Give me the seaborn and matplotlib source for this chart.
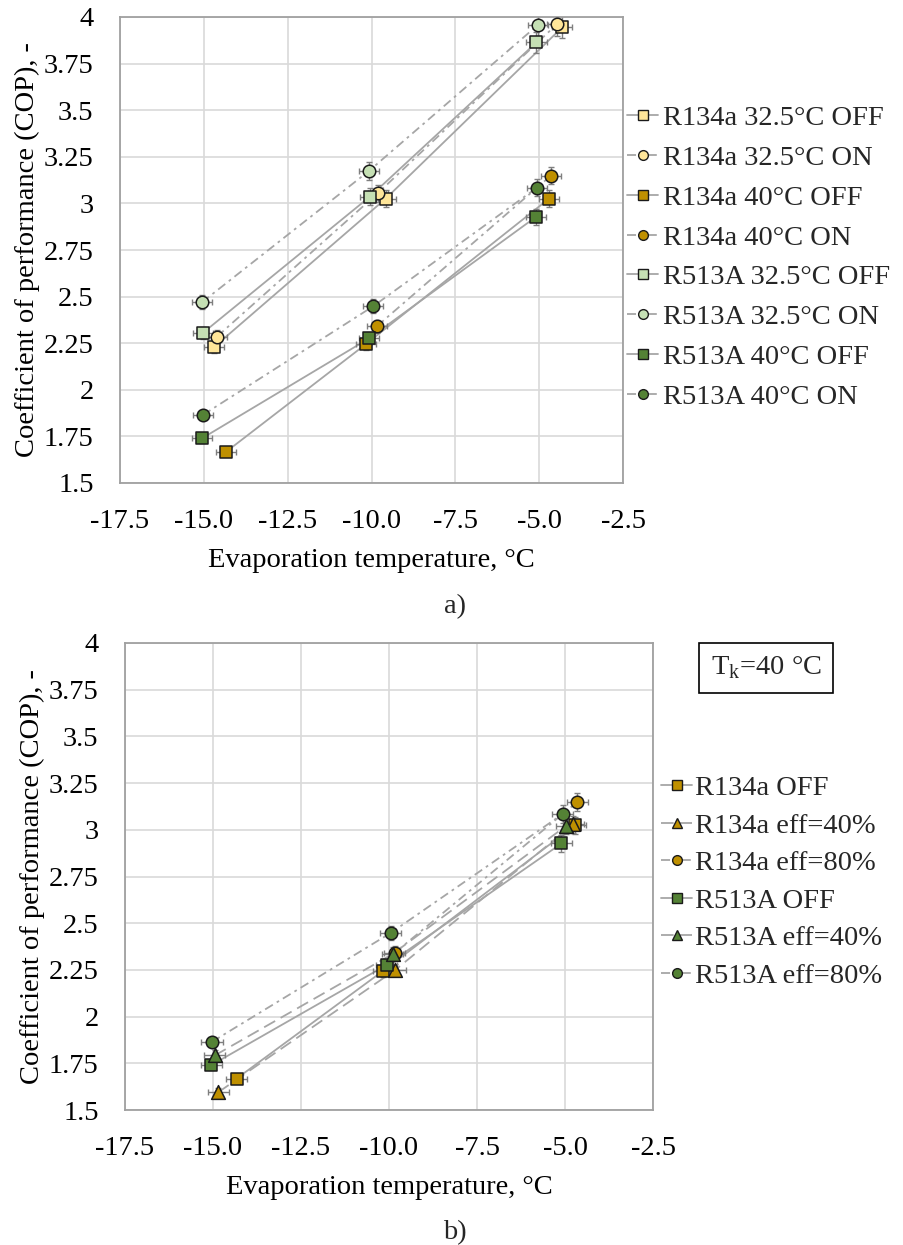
import matplotlib
matplotlib.use("Agg")
import numpy as np
import pandas as pd
import seaborn as sns
import matplotlib.pyplot as plt
from matplotlib.lines import Line2D

# ---------------- data ----------------
# Panel a)
r134a_325_off_x = [-14.69, -9.58, -4.31]
r134a_325_off_y = [2.230, 3.025, 3.945]
r134a_325_on_x = [-14.61, -9.81, -4.48]
r134a_325_on_y = [2.285, 3.055, 3.960]
r134a_40_off_x = [-14.33, -10.16, -4.71]
r134a_40_off_y = [1.668, 2.246, 3.025]
r134a_40_on_x = [-9.84, -4.65]
r134a_40_on_y = [2.341, 3.149]
r513a_325_off_x = [-15.03, -10.05, -5.08]
r513a_325_off_y = [2.305, 3.036, 3.864]
r513a_325_on_x = [-15.06, -10.07, -5.04]
r513a_325_on_y = [2.469, 3.175, 3.957]
r513a_40_off_x = [-15.05, -10.07, -5.10]
r513a_40_off_y = [1.740, 2.276, 2.927]
r513a_40_on_x = [-15.03, -9.95, -5.07]
r513a_40_on_y = [1.865, 2.448, 3.084]

# Panel b) extra series (T_k = 40 °C, IHX efficiency 40 %)
r134a_eff40_x = [-14.85, -9.82, -4.76]
r134a_eff40_y = [1.595, 2.250, 3.030]
r513a_eff40_x = [-14.95, -9.90, -4.96]
r513a_eff40_y = [1.792, 2.335, 3.022]

labels_a = ["R134a 32.5°C OFF", "R134a 32.5°C ON", "R134a 40°C OFF", "R134a 40°C ON",
            "R513A 32.5°C OFF", "R513A 32.5°C ON", "R513A 40°C OFF", "R513A 40°C ON"]
labels_b = ["R134a OFF", "R134a eff=40%", "R134a eff=80%",
            "R513A OFF", "R513A eff=40%", "R513A eff=80%"]

x_ticks = [-17.5, -15.0, -12.5, -10.0, -7.5, -5.0, -2.5]
y_ticks = [1.5, 1.75, 2.0, 2.25, 2.5, 2.75, 3.0, 3.25, 3.5, 3.75, 4.0]

T_ERR = 0.3          # K, temperature uncertainty
COP_REL_ERR = 0.015  # relative COP uncertainty

# ---------------- styles ----------------
C_134_LIGHT = "#FFE699"
C_134_DARK = "#BF9000"
C_513_LIGHT = "#C5E0B4"
C_513_DARK = "#548235"
LINE_C = "#a6a6a6"
SOLID = "-"
DASHDOT = (0, (5, 2.5, 1.5, 2.5))
DASHED = (0, (7, 3.5))

sns.set_theme(style="whitegrid")
plt.rcParams["font.family"] = ["Liberation Serif", "DejaVu Serif"]
plt.rcParams["mathtext.fontset"] = "custom"
plt.rcParams["mathtext.rm"] = "Liberation Serif"
FS = 20.5

W, H = 904, 1245
fig = plt.figure(figsize=(W / 100, H / 100), dpi=100)
fig.patch.set_facecolor("white")


def ax_px(l, t, r, b):
    return fig.add_axes([l / W, 1 - b / H, (r - l) / W, (b - t) / H])


ax1 = ax_px(120, 17, 623, 483)
ax2 = ax_px(125, 643, 653, 1110)

MS = 9.0


def draw_series(ax, xs, ys, color, marker, ls, ms=MS):
    df = pd.DataFrame({"x": xs, "y": ys})
    sns.lineplot(data=df, x="x", y="y", ax=ax, color=LINE_C, lw=1.3,
                 linestyle=ls, sort=False, legend=False, zorder=2)
    yerr = [COP_REL_ERR * v for v in ys]
    ax.errorbar(xs, ys, xerr=T_ERR, yerr=yerr, fmt="none", ecolor="#7f7f7f",
                elinewidth=1.0, capsize=2.5, capthick=1.0, zorder=2.5)
    sns.scatterplot(data=df, x="x", y="y", ax=ax, marker=marker, s=ms ** 2,
                    color=color, edgecolor="#1a1a1a", linewidth=1.1,
                    legend=False, zorder=3)


series_a = [
    (r134a_325_off_x, r134a_325_off_y, C_134_LIGHT, "s", SOLID),
    (r134a_325_on_x, r134a_325_on_y, C_134_LIGHT, "o", DASHDOT),
    (r134a_40_off_x, r134a_40_off_y, C_134_DARK, "s", SOLID),
    (r134a_40_on_x, r134a_40_on_y, C_134_DARK, "o", DASHDOT),
    (r513a_325_off_x, r513a_325_off_y, C_513_LIGHT, "s", SOLID),
    (r513a_325_on_x, r513a_325_on_y, C_513_LIGHT, "o", DASHDOT),
    (r513a_40_off_x, r513a_40_off_y, C_513_DARK, "s", SOLID),
    (r513a_40_on_x, r513a_40_on_y, C_513_DARK, "o", DASHDOT),
]
series_b = [
    (r134a_40_off_x, r134a_40_off_y, C_134_DARK, "s", SOLID),
    (r134a_eff40_x, r134a_eff40_y, C_134_DARK, "^", DASHED),
    (r134a_40_on_x, r134a_40_on_y, C_134_DARK, "o", DASHDOT),
    (r513a_40_off_x, r513a_40_off_y, C_513_DARK, "s", SOLID),
    (r513a_eff40_x, r513a_eff40_y, C_513_DARK, "^", DASHED),
    (r513a_40_on_x, r513a_40_on_y, C_513_DARK, "o", DASHDOT),
]

for s in series_a:
    draw_series(ax1, *s)
for s in series_b:
    draw_series(ax2, *s, ms=MS if s[3] != "^" else MS * 1.1)

for ax in (ax1, ax2):
    ax.set_xlim(-17.5, -2.5)
    ax.set_ylim(1.5, 4.0)
    ax.set_xticks(x_ticks)
    ax.set_xticklabels([f"{v:.1f}" for v in x_ticks])
    ax.set_yticks(y_ticks)
    ax.set_yticklabels([f"{v:g}" for v in y_ticks])
    ax.tick_params(axis="both", length=0, labelsize=FS, pad=19, colors="black")
    ax.grid(True, color="#d9d9d9", lw=1.2)
    ax.set_facecolor("white")
    for sp in ax.spines.values():
        sp.set_color("#a0a0a0")
        sp.set_linewidth(1.3)
    ax.set_xlabel("Evaporation temperature, °C", fontsize=FS, labelpad=10, color="black")
    ax.set_ylabel("Coefficient of performance (COP), -", fontsize=FS, labelpad=3, color="black")


def handle(color, marker, ls):
    return Line2D([], [], color=LINE_C, lw=1.3, linestyle=ls, marker=marker,
                  markersize=7, markerfacecolor=color, markeredgecolor="#1a1a1a",
                  markeredgewidth=1.0)


h_a = [handle(c, m, ls) for (_, _, c, m, ls) in series_a]
h_b = [handle(c, m, ls) for (_, _, c, m, ls) in series_b]

fig.legend(h_a, labels_a, loc="upper left", bbox_to_anchor=(627 / W, 1 - 105 / H),
           frameon=False, fontsize=FS, handlelength=1.1, handletextpad=0.15,
           labelspacing=0.49, borderpad=0, borderaxespad=0)
fig.legend(h_b, labels_b, loc="upper left", bbox_to_anchor=(661 / W, 1 - 775 / H),
           frameon=False, fontsize=FS, handlelength=1.1, handletextpad=0.1,
           labelspacing=0.41, borderpad=0, borderaxespad=0)

fig.text(766 / W, 1 - 668 / H, r"T$_\mathregular{k}$=40 °C", fontsize=FS,
         ha="center", va="center",
         bbox=dict(boxstyle="square,pad=0.4", fc="white", ec="black", lw=1.2))

fig.text(455 / W, 1 - 607 / H, "a)", fontsize=FS, ha="center", va="center")
fig.text(455 / W, 1 - 1233 / H, "b)", fontsize=FS, ha="center", va="center")

fig.savefig("out.png", dpi=100, facecolor="white")
